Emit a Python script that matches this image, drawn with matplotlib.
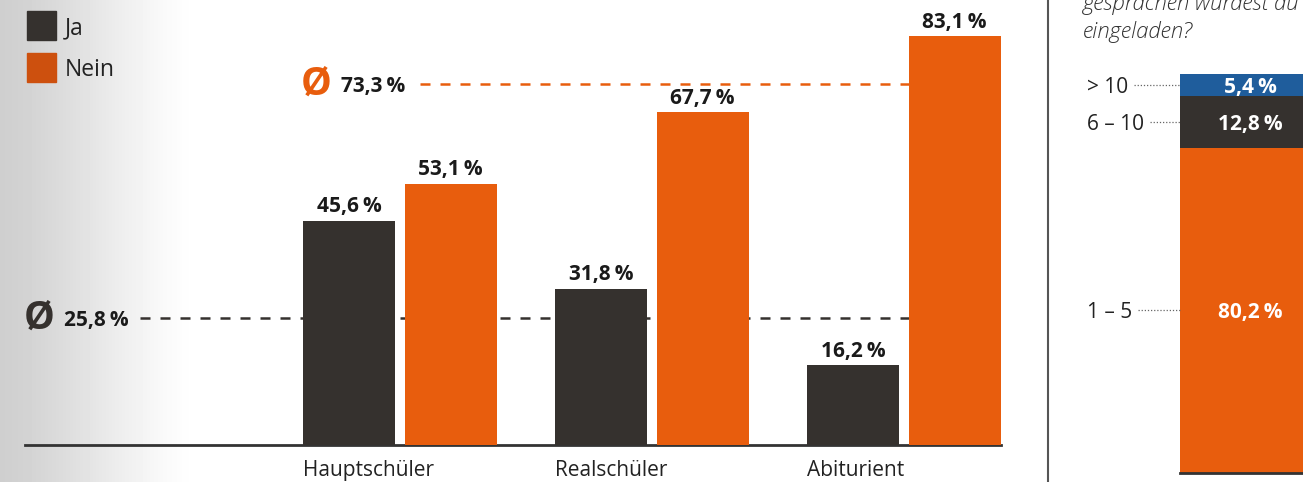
import numpy as np
import matplotlib.pyplot as plt
import matplotlib.transforms as mtransforms
from matplotlib.patches import Rectangle
from matplotlib.lines import Line2D

plt.rcParams['font.family'] = ['Open Sans', 'DejaVu Sans']

# data
schools = ['Hauptschüler', 'Realschüler', 'Abiturient']
ja = [45.6, 31.8, 16.2]
nein = [53.1, 67.7, 83.1]
avg_ja = 25.8
avg_nein = 73.3

count_labels = ['1 – 5', '6 – 10', '> 10']
count_shares = [80.2, 12.8, 5.4]

dark = '#35312e'
orange = '#e85d0d'
blue = '#1f5d9c'
text_col = '#1a1a1a'


def pct(v):
    return f'{v:.1f}'.replace('.', ',') + '\u2009%'


W, H = 1303, 482
fig = plt.figure(figsize=(W / 100, H / 100), dpi=100)

# grey fade on the left
bg = fig.add_axes([0, 0, 1, 1], zorder=-10)
ramp = np.clip(np.linspace(0, 1, W) / 0.15, 0, 1)
ramp = 3 * ramp ** 2 - 2 * ramp ** 3
ramp = 0.5 * ramp + 0.5 * np.clip(np.linspace(0, 1, W) / 0.15, 0, 1)
shade = 0.81 + 0.19 * ramp
bg.imshow(np.tile(shade, (2, 1)), cmap='gray', vmin=0, vmax=1,
          aspect='auto', extent=[0, 1, 0, 1])
bg.set_axis_off()

# main bar chart
ax = fig.add_axes([25 / W, 37 / H, 976 / W, 445 / H])
ax.set_facecolor('none')
x = np.arange(len(schools))
bw = 0.365
off = 0.201
ax.bar(x - off, ja, bw, color=dark, zorder=3)
ax.bar(x + off, nein, bw, color=orange, zorder=3)
for xi, v in zip(x - off, ja):
    ax.annotate(pct(v), (xi, v), xytext=(0, 6), textcoords='offset points',
                ha='center', va='baseline', fontsize=15, fontweight='bold',
                color=text_col)
for xi, v in zip(x + off, nein):
    ax.annotate(pct(v), (xi, v), xytext=(0, 6), textcoords='offset points',
                ha='center', va='baseline', fontsize=15, fontweight='bold',
                color=text_col)

ax.set_xlim(-1.488, 2.385)
ax.set_ylim(0, 90.45)

# averages
blend = mtransforms.blended_transform_factory(ax.transAxes, ax.transData)
ax.axhline(avg_ja, xmin=0.118, xmax=1, color=dark, lw=1.8, dashes=(4, 4), zorder=1)
ax.axhline(avg_nein, xmin=0.405, xmax=1, color=orange, lw=1.8, dashes=(4, 4), zorder=1)
ax.text(0.0143, avg_ja, 'Ø', transform=blend, fontsize=28, fontweight='bold',
        color=dark, ha='center', va='center')
ax.text(0.040, avg_ja, pct(avg_ja), transform=blend, fontsize=15,
        fontweight='bold', color=text_col, ha='left', va='center_baseline')
ax.text(0.298, avg_nein, 'Ø', transform=blend, fontsize=28, fontweight='bold',
        color=orange, ha='center', va='center')
ax.text(0.324, avg_nein, pct(avg_nein), transform=blend, fontsize=15,
        fontweight='bold', color=text_col, ha='left', va='center_baseline')

ax.set_xticks(x - off - bw / 2)
ax.set_xticklabels(schools, ha='left', fontsize=15, color='#222222')
ax.tick_params(axis='x', length=0, pad=11)
ax.set_yticks([])
for s in ['top', 'left', 'right']:
    ax.spines[s].set_visible(False)
ax.spines['bottom'].set_linewidth(2)
ax.spines['bottom'].set_color('#333333')

# legend
legend_items = [('Ja', dark, 11), ('Nein', '#cd500e', 53)]
for lab, col, top in legend_items:
    fig.add_artist(Rectangle((27 / W, 1 - (top + 29) / H), 29 / W, 29 / H,
                             transform=fig.transFigure, color=col))
    fig.text(65 / W, 1 - (top + 14.5) / H, lab, fontsize=16.5, color='#222222',
             ha='left', va='center_baseline')

# divider
fig.add_artist(Line2D([1048 / W, 1048 / W], [0, 1], transform=fig.transFigure,
                      color='#555555', lw=1.5))

# question text (cut off at the top)
fig.text(1083 / W, 1 - 10 / H, 'gesprächen wurdest du', style='italic',
         fontweight='light', fontsize=16, color='#333333', va='baseline', ha='left')
fig.text(1083 / W, 1 - 38 / H, 'eingeladen?', style='italic',
         fontweight='light', fontsize=16, color='#333333', va='baseline', ha='left')

# stacked bar on the right
ax2 = fig.add_axes([1180 / W, 9 / H, 140 / W, 399 / H])
ax2.set_facecolor('none')
colors = [orange, dark, blue]
bottom = 0
blend2 = mtransforms.blended_transform_factory(ax2.transAxes, ax2.transData)
label_texts = []
for lab, v, c in zip(count_labels, count_shares, colors):
    ax2.bar(0.5, v, 1.0, bottom=bottom, color=c)
    mid = bottom + v / 2
    ax2.text(0.5, mid, pct(v), ha='center', va='center_baseline', fontsize=15,
             fontweight='bold', color='white')
    t = ax2.text(-0.664, mid, lab, transform=blend2, ha='left',
                 va='center_baseline', fontsize=15, color='#222222')
    label_texts.append((t, mid))
    bottom += v
ax2.set_xlim(0, 1)
ax2.set_ylim(0, sum(count_shares))
ax2.set_xticks([])
ax2.set_yticks([])
for s in ['top', 'left', 'right']:
    ax2.spines[s].set_visible(False)
ax2.spines['bottom'].set_linewidth(2)
ax2.spines['bottom'].set_color('#333333')

# dotted leaders from label to bar
fig.canvas.draw()
inv = ax2.transAxes.inverted()
for t, mid in label_texts:
    bb = t.get_window_extent()
    x0 = inv.transform((bb.x1 + 6, 0))[0]
    ax2.plot([x0, 0], [mid, mid], transform=blend2, color='#666666', lw=0.9,
             dashes=(1, 1.5), clip_on=False)

fig.savefig('out.png', dpi=100)
